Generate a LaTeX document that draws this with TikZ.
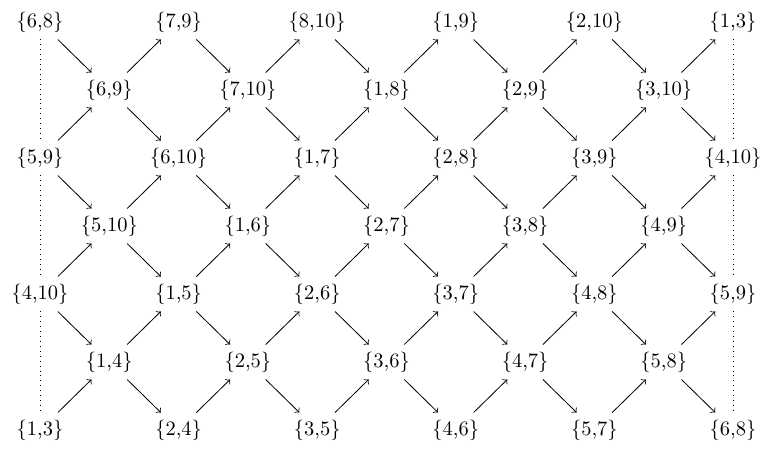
\documentclass[tikz,border=0pt]{standalone}
\begin{document}
\begin{tikzpicture}[x=0.4878pt,y=-0.4878pt,
  lbl/.style={inner sep=3.33pt},
  arr/.style={->},
  dotline/.style={dotted}]
\useasboundingbox (0,0) rectangle (763,450);
\foreach \c/\r/\t in {
 0/0/{6,8}, 2/0/{7,9}, 4/0/{8,10}, 6/0/{1,9}, 8/0/{2,10}, 10/0/{1,3},
 1/1/{6,9}, 3/1/{7,10}, 5/1/{1,8}, 7/1/{2,9}, 9/1/{3,10},
 0/2/{5,9}, 2/2/{6,10}, 4/2/{1,7}, 6/2/{2,8}, 8/2/{3,9}, 10/2/{4,10},
 1/3/{5,10}, 3/3/{1,6}, 5/3/{2,7}, 7/3/{3,8}, 9/3/{4,9},
 0/4/{4,10}, 2/4/{1,5}, 4/4/{2,6}, 6/4/{3,7}, 8/4/{4,8}, 10/4/{5,9},
 1/5/{1,4}, 3/5/{2,5}, 5/5/{3,6}, 7/5/{4,7}, 9/5/{5,8},
 0/6/{1,3}, 2/6/{2,4}, 4/6/{3,5}, 6/6/{4,6}, 8/6/{5,7}, 10/6/{6,8}}
  \node[lbl] (n-\c-\r) at ({40+69.3*\c},{22+68*\r}) {\{\t\}};
% down-right arrows
\foreach \c in {0,...,9}
  \foreach \r in {0,...,5} {
    \pgfmathtruncatemacro{\p}{mod(\c+\r,2)}
    \pgfmathtruncatemacro{\cc}{\c+1}
    \pgfmathtruncatemacro{\rr}{\r+1}
    \ifnum\p=0 \draw[arr] (n-\c-\r) -- (n-\cc-\rr); \fi
  }
% up-right arrows
\foreach \c in {0,...,9}
  \foreach \r in {1,...,6} {
    \pgfmathtruncatemacro{\p}{mod(\c+\r,2)}
    \pgfmathtruncatemacro{\cc}{\c+1}
    \pgfmathtruncatemacro{\rr}{\r-1}
    \ifnum\p=0 \draw[arr] (n-\c-\r) -- (n-\cc-\rr); \fi
  }
% dotted verticals
\foreach \c in {0,10}
  \foreach \r/\rr in {0/2,2/4,4/6}
    \draw[dotline] (n-\c-\r) -- (n-\c-\rr);
\end{tikzpicture}
\end{document}
